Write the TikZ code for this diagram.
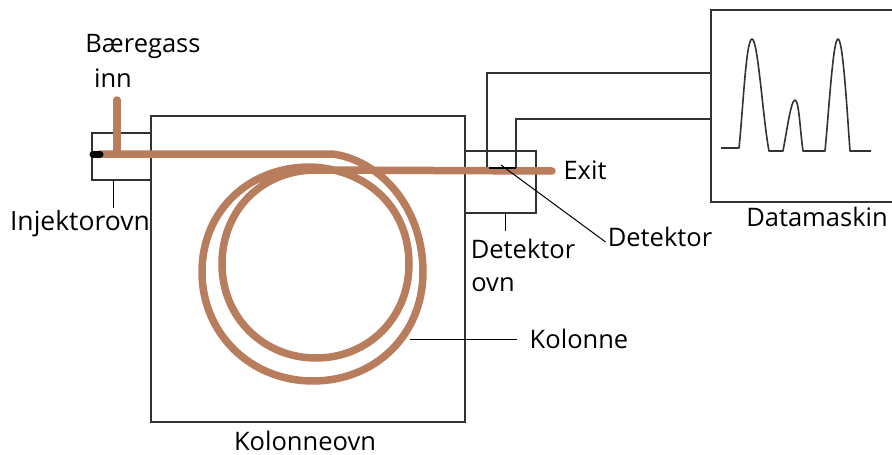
\documentclass[tikz,border=0pt]{standalone}
\usepackage{fontspec}
\setmainfont{Open Sans}
\definecolor{tube}{RGB}{184,125,92}
\definecolor{wire}{RGB}{50,50,50}
\tikzset{
  oven/.style={draw=wire,line width=1.3pt},
  signalline/.style={draw=wire,line width=1.1pt},
  leader/.style={draw=black,line width=1pt},
  tubing/.style={draw=tube,line width=7.5pt,line cap=round,line join=round},
  peak/.style={draw=wire,line width=1.6pt,line join=round},
  lbl/.style={font=\fontsize{25.5}{30}\selectfont,text=black,inner sep=0pt,align=center}
}
\begin{document}
\begin{tikzpicture}[x=1pt,y=-1pt]
\useasboundingbox (0,0) rectangle (892,455);
% boxes
\coordinate (injA) at (151,133);
\coordinate (injB) at (92,133);
\coordinate (injC) at (92,180);
\coordinate (injD) at (151,180);
\coordinate (detA) at (465,151);
\coordinate (detB) at (536,151);
\coordinate (detC) at (536,213);
\coordinate (detD) at (465,213);
\coordinate (dmA) at (892,10);
\coordinate (dmB) at (711,10);
\coordinate (dmC) at (711,202);
\coordinate (dmD) at (892,202);
\path[oven] (151,116) rectangle (465,422);
\path[oven] (injA) -- (injB) -- (injC) -- (injD);
\path[oven] (detA) -- (detB) -- (detC) -- (detD);
\path[oven] (dmA) -- (dmB) -- (dmC) -- (dmD);
% tubing
\path[tubing] (117,100) -- (117,154);
\path[tubing] (100,154) -- (333,154)
  .. controls (385,162) and (423,212) .. (423,272)
  .. controls (423,335) and (375,381) .. (313,381)
  .. controls (250,381) and (202,333) .. (202,272)
  .. controls (202,210) and (250,166) .. (312,167)
  .. controls (370,170) and (409,210) .. (409,264)
  .. controls (409,318) and (368,358) .. (316,358)
  .. controls (264,358) and (222,318) .. (222,264)
  .. controls (222,210) and (262,170) .. (316,170)
  -- (552,171);
\draw[line width=7pt,line cap=round,black] (93,154) -- (100,154);
% signal wires
\coordinate (sigA) at (711,73);
\coordinate (sigB) at (711,119);
\path[signalline] (sigA) -- (487,73) -- (487,167);
\path[signalline] (sigB) -- (516,119) -- (516,168);
\draw[line width=1.2pt,black] (489,168) -- (516,168);
% peaks
\path[peak] (721,148) -- (739,148)
  .. controls (743,110) and (746,39) .. (752,39)
  .. controls (758,39) and (763,120) .. (769,151)
  -- (783,151)
  .. controls (787,130) and (791,100) .. (795,100)
  .. controls (799,100) and (800,130) .. (803,151)
  -- (825,151)
  .. controls (829,110) and (833,39) .. (838,39)
  .. controls (843,39) and (847,110) .. (850,151)
  -- (871,151);
% labels
\node[lbl] (carrier) at (143,46) {Bæregass};
\node[lbl] (carrier2) at (113,78) {inn};
\node[lbl,font=\fontsize{26.5}{30}\selectfont] (injlabel) at (80,224) {Injektorovn};
\node[lbl] (detovn) at (523,249) {Detektor};
\node[lbl] (detovn2) at (493,285) {ovn};
\node[lbl] (detlabel) at (660,237) {Detektor};
\node[lbl] (exit) at (585,170) {Exit};
\node[lbl] (kolonne) at (579,339) {Kolonne};
\node[lbl] (ovnlabel) at (305,441) {Kolonneovn};
\node[lbl] (datalabel) at (817,217) {Datamaskin};
% leaders
\coordinate (injTop) at (113,180);
\coordinate (detTop) at (505,213);
\coordinate (detTip) at (501,165);
\coordinate (kolStart) at (410,339);
\path[leader] (injTop) -- (113,208);
\path[leader] (detTop) -- (505,231);
\path[leader] (detTip) -- ([xshift=-2pt,yshift=-5pt]detlabel.west);
\path[leader] (kolStart) -- ([xshift=-13pt]kolonne.west);
\end{tikzpicture}
\end{document}
